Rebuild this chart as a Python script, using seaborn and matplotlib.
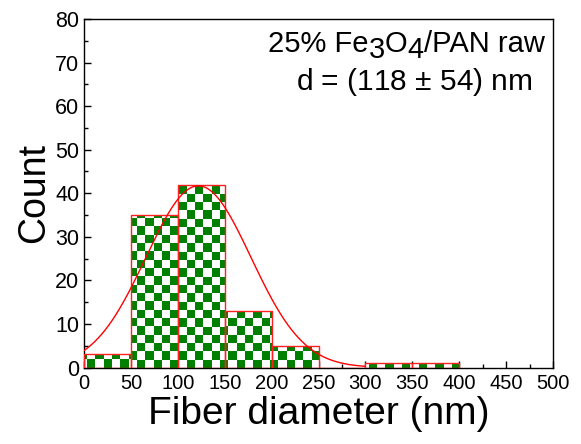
import numpy as np
import pandas as pd
import matplotlib
matplotlib.use("Agg")
import matplotlib.pyplot as plt
import seaborn as sns
from matplotlib.colors import ListedColormap
from matplotlib.ticker import MultipleLocator

# ---- data ----
bin_edges = [0, 50, 100, 150, 200, 250, 300, 350, 400]
counts = [3, 35, 42, 13, 5, 0, 1, 1]
fit_center = 122.0
fit_sigma = 56.0
fit_amplitude = 41.7
fit_range = [0, 300]
x_ticks = [0, 50, 100, 150, 200, 250, 300, 350, 400, 450, 500]
y_ticks = [0, 10, 20, 30, 40, 50, 60, 70, 80]
x_label = "Fiber diameter (nm)"
y_label = "Count"
line2_text = "d = (118 $\\pm$ 54) nm"

sns.set_theme(style="ticks")
plt.rcParams["font.family"] = ["Liberation Sans", "DejaVu Sans"]
plt.rcParams["mathtext.fontset"] = "custom"
plt.rcParams["mathtext.rm"] = "Liberation Sans"
plt.rcParams["text.color"] = "black"
plt.rcParams["axes.labelcolor"] = "black"

W, H = 581, 444
fig = plt.figure(figsize=(W / 100, H / 100), dpi=100)
ax = fig.add_axes([84 / W, 1 - 367.5 / H, (553 - 84) / W, (367.5 - 19) / H])

edges = np.array(bin_edges, dtype=float)
centers = (edges[:-1] + edges[1:]) / 2
df = pd.DataFrame({"diameter": centers, "count": counts})
sns.histplot(data=df, x="diameter", weights="count", bins=bin_edges, ax=ax,
             stat="count", element="bars", fill=True, alpha=1,
             facecolor="none", edgecolor="#ff2020", linewidth=1.0, zorder=3)

# checkerboard fill, clipped to each bar
px_x = (553 - 84) / 500.0
px_y = (367.5 - 19) / 80.0
cell = 8.3
cw = cell / px_x
ch = cell / px_y
x0 = 3.2 - cw
ncols = int(np.ceil((500 - x0) / cw)) + 1
nrows = int(np.ceil(80 / ch)) + 1
ii, jj = np.indices((nrows, ncols))
board = (ii + jj) % 2
cmap = ListedColormap(["white", "#008000"])
for p in list(ax.patches):
    if p.get_height() <= 0:
        continue
    im = ax.imshow(board, cmap=cmap, origin="lower", aspect="auto",
                   interpolation="nearest",
                   extent=(x0, x0 + ncols * cw, 0, nrows * ch), zorder=2)
    im.set_clip_path(p)
    p.set_zorder(3)

# Gaussian fit curve
xs = np.linspace(fit_range[0], fit_range[1], 400)
ys = fit_amplitude * np.exp(-(xs - fit_center) ** 2 / (2 * fit_sigma ** 2))
sns.lineplot(x=xs, y=ys, ax=ax, color="red", linewidth=1.0, zorder=4)

ax.set_xlim(0, 500)
ax.set_ylim(0, 80)
ax.set_xticks(x_ticks)
ax.set_yticks(y_ticks)
ax.xaxis.set_minor_locator(MultipleLocator(25))
ax.yaxis.set_minor_locator(MultipleLocator(5))
ax.tick_params(which="both", direction="in", top=False, right=False,
               colors="black", labelcolor="black", width=1.0)
ax.tick_params(which="major", length=5)
ax.tick_params(axis="x", which="major", pad=5, labelsize=14.5)
ax.tick_params(axis="y", which="major", labelsize=15.5)
ax.tick_params(which="minor", length=3)
for s in ax.spines.values():
    s.set_visible(True)
    s.set_color("black")
    s.set_linewidth(1.0)
ax.set_xlabel(x_label, fontsize=28, labelpad=2, color="black")
ax.set_ylabel(y_label, fontsize=27, labelpad=2, color="black")
ax.grid(False)

# annotation
fs = 21
t1 = fig.text(268 / W, 1 - 52 / H, "25% Fe", fontsize=fs, ha="left", va="baseline")
sub_off = -4
t2 = ax.annotate("3", xy=(1, 0), xycoords=t1, xytext=(0, sub_off),
                 textcoords="offset points", fontsize=fs, ha="left", va="bottom")
t3 = ax.annotate("O", xy=(1, 0), xycoords=t2, xytext=(0, -sub_off),
                 textcoords="offset points", fontsize=fs, ha="left", va="bottom")
t4 = ax.annotate("4", xy=(1, 0), xycoords=t3, xytext=(0, sub_off),
                 textcoords="offset points", fontsize=fs, ha="left", va="bottom")
t5 = ax.annotate("/PAN raw", xy=(1, 0), xycoords=t4, xytext=(0, -sub_off),
                 textcoords="offset points", fontsize=fs, ha="left", va="bottom")
fig.text(533 / W, 1 - 90 / H, line2_text, fontsize=21.5, ha="right", va="baseline")

fig.savefig("out.png", dpi=100)
